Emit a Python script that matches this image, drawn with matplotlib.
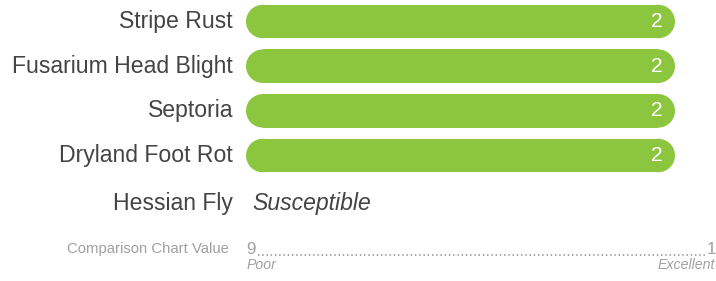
import matplotlib
matplotlib.use("Agg")
import matplotlib.pyplot as plt
from matplotlib.patches import Rectangle, Ellipse
from matplotlib import font_manager

# ---- data ----
categories = ["Stripe Rust", "Fusarium Head Blight", "Septoria", "Dryland Foot Rot"]
values = [2, 2, 2, 2]
text_category = "Hessian Fly"
text_value = "Susceptible"
scale_label = "Comparison Chart Value"
scale_worst = 9
scale_best = 1
scale_low_word = "Poor"
scale_high_word = "Excellent"

# ---- style ----
BAR = "#8cc63f"
LABEL = "#444444"
GRAY = "#a0a0a0"
W, H = 716, 281
DPI = 100

names = {f.name for f in font_manager.fontManager.ttflist}
main_font = "Liberation Sans" if "Liberation Sans" in names else "DejaVu Sans"
if "Liberation Sans Narrow" in names:
    narrow_font, narrow_scale = "Liberation Sans Narrow", 1.0
else:
    narrow_font, narrow_scale = main_font, 0.83

fig = plt.figure(figsize=(W / DPI, H / DPI), dpi=DPI)
fig.patch.set_facecolor("white")

def px2pt(p):
    return p * 72.0 / DPI

row_px = 44.67
first_center = 21.5
ax_left_px, ax_right_px = 246, 716
top_idx = -first_center / row_px
bottom_idx = (H - first_center) / row_px
ax = fig.add_axes([ax_left_px / W, 0, (ax_right_px - ax_left_px) / W, 1])
bar_px_len = 429.0
xmax = (scale_worst - scale_best) * (ax_right_px - ax_left_px) / bar_px_len
ax.set_xlim(0, xmax)
ax.set_ylim(bottom_idx, top_idx)
ax.axis("off")

px_per_x = (ax_right_px - ax_left_px) / xmax
bar_h = 0.75
radius_px = bar_h * row_px / 2
rx = radius_px / px_per_x

for i, (cat, v) in enumerate(zip(categories, values)):
    length = (scale_worst + 1) - v
    ax.add_patch(Rectangle((rx, i - bar_h / 2), length - 2 * rx, bar_h,
                           facecolor=BAR, edgecolor="none", antialiased=True))
    for cx in (rx, length - rx):
        ax.add_patch(Ellipse((cx, i), 2 * rx, bar_h, facecolor=BAR, edgecolor="none"))
    ax.annotate(str(v), xy=(length, i), xytext=(px2pt(-12), 0),
                textcoords="offset points", ha="right", va="center",
                color="white", fontsize=px2pt(21), family=main_font)
    ax.annotate(cat, xy=(0, i), xytext=(px2pt(-13), 0),
                textcoords="offset points", ha="right", va="center",
                color=LABEL, fontsize=px2pt(23), family=main_font,
                annotation_clip=False)

# text row
ty = (203 - first_center) / row_px
ax.annotate(text_category, xy=(0, ty), xytext=(px2pt(-13), 0),
            textcoords="offset points", ha="right", va="center",
            color=LABEL, fontsize=px2pt(23), family=main_font, annotation_clip=False)
ax.annotate(text_value, xy=(0, ty), xytext=(px2pt(6), 0),
            textcoords="offset points", ha="left", va="center",
            color=LABEL, fontsize=px2pt(23), style="italic", family=main_font)

# scale row
sy = (249 - first_center) / row_px
wy = (265 - first_center) / row_px
fs_small = px2pt(18 * narrow_scale)
fs_digit = px2pt(17)
ax.annotate(scale_label, xy=(0, sy), xytext=(px2pt(-17), 0),
            textcoords="offset points", ha="right", va="center",
            color=GRAY, fontsize=fs_small, family=narrow_font, annotation_clip=False)
scale_end_x = (713 - ax_left_px) / px_per_x
ax.annotate(str(scale_worst), xy=(0, sy), xytext=(px2pt(0), 0),
            textcoords="offset points", ha="left", va="center",
            color=GRAY, fontsize=fs_digit, family=narrow_font)
ax.annotate(str(scale_best), xy=(scale_end_x, sy), xytext=(px2pt(3), 0),
            textcoords="offset points", ha="right", va="center",
            color=GRAY, fontsize=fs_digit, family=narrow_font, annotation_clip=False)
dot_y = (254.5 - first_center) / row_px
ax.plot([12 / px_per_x, scale_end_x - 7 / px_per_x], [dot_y, dot_y],
        color="#999999", lw=1.3, linestyle=(0, (0.75, 1.6)), dash_capstyle="butt")
ax.annotate(scale_low_word, xy=(0, wy), xytext=(px2pt(1), 0),
            textcoords="offset points", ha="left", va="center",
            color=GRAY, fontsize=px2pt(17 * narrow_scale), style="italic", family=narrow_font)
ax.annotate(scale_high_word, xy=(scale_end_x, wy), xytext=(px2pt(2), 0),
            textcoords="offset points", ha="right", va="center",
            color=GRAY, fontsize=px2pt(17 * narrow_scale), style="italic", family=narrow_font,
            annotation_clip=False)

fig.savefig("out.png", dpi=DPI, facecolor="white")
